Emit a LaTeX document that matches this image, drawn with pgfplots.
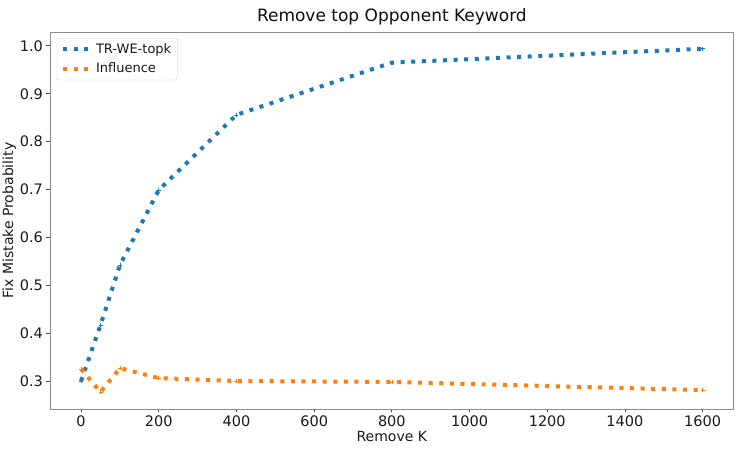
\documentclass[border=0pt]{standalone}
\usepackage{pgfplots}
\pgfplotsset{compat=1.18}
\usepackage{fontspec}
\setmainfont{DejaVu Sans}
\setsansfont{DejaVu Sans}
\definecolor{tabblue}{HTML}{1F77B4}
\definecolor{taborange}{HTML}{FF7F0E}
\definecolor{spine}{HTML}{8C8C8C}

\begin{document}
\begin{tikzpicture}
\begin{axis}[
  name=main,
  scale only axis,
  width=683.7pt, height=377pt,
  xmin=-80, xmax=1680,
  ymin=0.2415, ymax=1.029,
  xtick={0,200,...,1600},
  ytick={0.3,0.4,...,1.0},
  /pgf/number format/assume math mode=true,
  xticklabel style={/pgf/number format/.cd,fixed,1000 sep={}},
  yticklabel style={/pgf/number format/.cd,fixed,fixed zerofill,precision=1},
  tick label style={font=\fontsize{14.5}{16}\selectfont, text=black!90},
  axis line style={spine, line width=0.9pt},
  tick style={black!70, line width=0.8pt},
  major tick length=3.5pt,
  tick align=outside,
  xtick pos=bottom, ytick pos=left,
  xlabel={Remove K},
  ylabel={Fix Mistake Probability},
  label style={font=\fontsize{14}{16}\selectfont, text=black!90},
  xlabel style={yshift=3pt},
  ylabel style={yshift=-3pt},
  title={Remove top Opponent Keyword},
  title style={font=\fontsize{17}{20}\selectfont, text=black!95, yshift=-3pt},
  legend style={
    at={(0.01,0.984)}, anchor=north west,
    draw=black!20, rounded corners=2pt,
    font=\fontsize{13}{15}\selectfont,
    row sep=4pt, inner xsep=4pt, inner ysep=3.5pt,
    cells={anchor=west}, text=black!90,
  },
  legend image code/.code={
    \draw[#1, mark=none] (0pt,0pt) -- (25pt,0pt);
    \path (29pt,0pt);
  },
  every axis plot/.append style={
    line width=4pt, dash pattern=on 4pt off 6.6pt,
    mark=+, mark size=2pt,
    mark options={solid, line width=0.6pt},
  },
]
\addplot[tabblue] coordinates {
  (0,0.300) (50,0.417) (100,0.542) (200,0.699)
  (400,0.856) (800,0.965) (1600,0.994)
};
\addplot[taborange] coordinates {
  (0,0.325) (50,0.277) (100,0.327) (200,0.306)
  (400,0.300) (800,0.298) (1600,0.281)
};
\legend{TR-WE-topk, Influence}
\end{axis}
\pgfresetboundingbox
\path[use as bounding box] ([shift={(-50pt,-42pt)}]main.south west)
  rectangle ([shift={(12.3pt,32pt)}]main.north east);
\end{tikzpicture}
\end{document}
